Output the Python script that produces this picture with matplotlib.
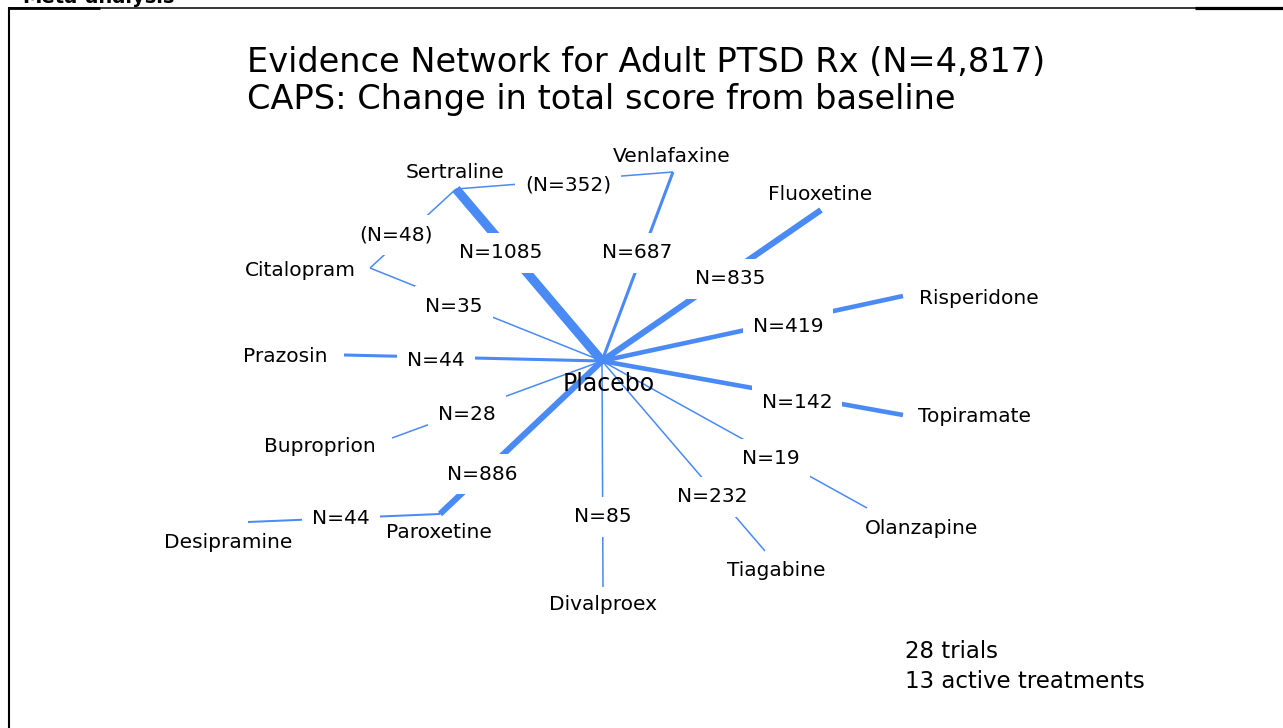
import matplotlib
matplotlib.use("Agg")
import matplotlib.pyplot as plt

# network data
nodes = ["Placebo", "Sertraline", "Venlafaxine", "Fluoxetine", "Risperidone",
         "Topiramate", "Olanzapine", "Tiagabine", "Divalproex", "Paroxetine",
         "Buproprion", "Prazosin", "Citalopram", "Desipramine"]
edges = [("Placebo", "Sertraline"), ("Placebo", "Venlafaxine"),
         ("Placebo", "Fluoxetine"), ("Placebo", "Risperidone"),
         ("Placebo", "Topiramate"), ("Placebo", "Olanzapine"),
         ("Placebo", "Tiagabine"), ("Placebo", "Divalproex"),
         ("Placebo", "Paroxetine"), ("Placebo", "Buproprion"),
         ("Placebo", "Prazosin"), ("Placebo", "Citalopram"),
         ("Sertraline", "Citalopram"), ("Sertraline", "Venlafaxine"),
         ("Paroxetine", "Desipramine")]
n_patients = [1085, 687, 835, 419, 142, 19, 232, 85, 886, 28, 44, 35, 48, 352, 44]
n_trials = [6, 2, 4, 3, 3, 1, 1, 1, 4, 1, 2, 1, 1, 1, 1.3]
in_parens = [False] * 12 + [True, True, False]

title_lines = ["Evidence Network for Adult PTSD Rx (N=4,817)",
               "CAPS: Change in total score from baseline"]
summary_lines = ["28 trials", "13 active treatments"]

# layout (pixel coords of the slide, y pointing down)
pos = {
    "Placebo": (602, 361), "Sertraline": (456, 189), "Venlafaxine": (673, 172),
    "Fluoxetine": (821, 210), "Risperidone": (903, 296), "Topiramate": (903, 415),
    "Olanzapine": (867, 508), "Tiagabine": (765, 551), "Divalproex": (603, 587),
    "Paroxetine": (440, 514), "Buproprion": (392, 438), "Prazosin": (344, 355),
    "Citalopram": (370, 268), "Desipramine": (248, 522),
}
label_pos = {
    "Placebo": (609, 383), "Sertraline": (455, 172), "Venlafaxine": (672, 155),
    "Fluoxetine": (820, 194), "Risperidone": (979, 297), "Topiramate": (975, 415),
    "Olanzapine": (922, 527), "Tiagabine": (776, 570), "Divalproex": (603, 604),
    "Paroxetine": (439, 532), "Buproprion": (320, 446), "Prazosin": (285, 356),
    "Citalopram": (300, 269), "Desipramine": (228, 541),
}
edge_label_pos = [(501, 252), (637, 252), (730, 278), (788, 325), (797, 401),
                  (771, 458), (712, 496), (603, 516), (482, 473), (467, 414),
                  (436, 360), (454, 305), (396, 234), (568, 184), (341, 518)]

blue = "#4a8af4"
W, H = 1283, 728

fig = plt.figure(figsize=(W / 100, H / 100), dpi=100)
ax = fig.add_axes([0, 0, 1, 1])
ax.set_xlim(0, W)
ax.set_ylim(H, 0)
ax.axis("off")

# slide frame
frame = dict(color="black", clip_on=False, solid_capstyle="butt")
ax.plot([9, 9], [7, H], lw=1.5, **frame)
ax.plot([8, W], [7.5, 7.5], lw=1.1, **frame)
ax.plot([1195, W], [7.5, 7.5], lw=2.3, **frame)
ax.plot([8, 100], [8, 8], lw=2.0, **frame)
ax.text(22, 3, "Meta-analysis", fontsize=14, fontweight="bold",
        ha="left", va="baseline", clip_on=False)

# edges
for (a, b), t in zip(edges, n_trials):
    xa, ya = pos[a]
    xb, yb = pos[b]
    ax.plot([xa, xb], [ya, yb], color=blue, lw=1.1 * t,
            solid_capstyle="butt", zorder=1)

# edge labels (white box leaves a gap in the line)
for n, p, (x, y) in zip(n_patients, in_parens, edge_label_pos):
    s = f"(N={n})" if p else f"N={n}"
    ax.text(x, y + 1, s, fontsize=14.5, ha="center", va="center", zorder=3,
            bbox=dict(boxstyle="square,pad=0.5", fc="white", ec="none"))

# node labels
for name in nodes:
    x, y = label_pos[name]
    fs = 17 if name == "Placebo" else 14.5
    ax.text(x, y + 1, name, fontsize=fs, ha="center", va="center", zorder=4)

# title
ax.text(247, 62, title_lines[0], fontsize=24.2, ha="left", va="center")
ax.text(247, 100, title_lines[1], fontsize=24.2, ha="left", va="center")

# summary
ax.text(905, 652, summary_lines[0], fontsize=16.5, ha="left", va="center")
ax.text(905, 681, summary_lines[1], fontsize=16.5, ha="left", va="center")

fig.savefig("out.png", dpi=100)
